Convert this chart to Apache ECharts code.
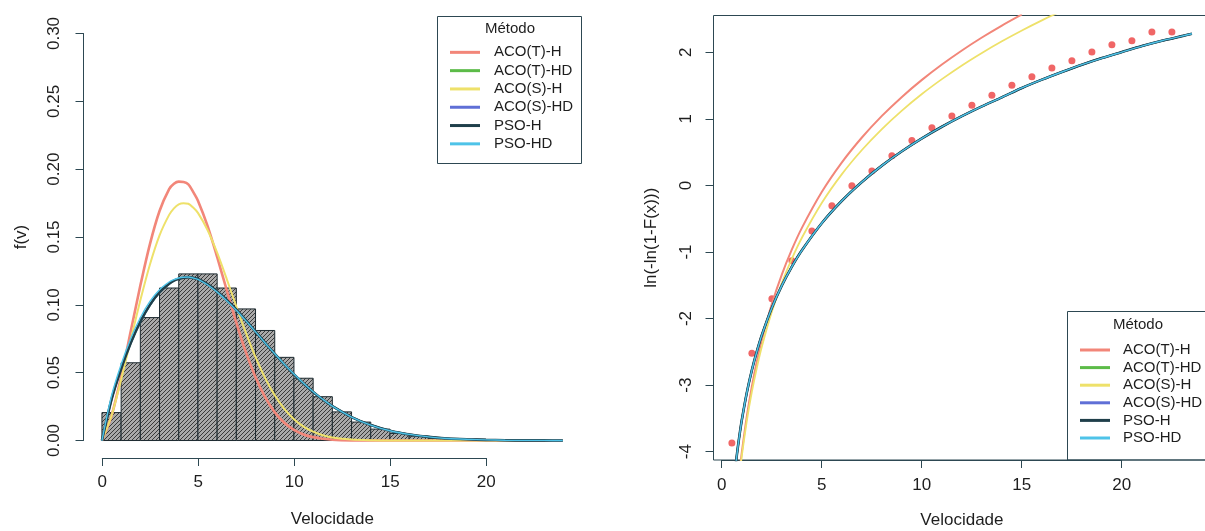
<!DOCTYPE html>
<html>
<head>
<meta charset="utf-8">
<script src="https://cdn.jsdelivr.net/npm/echarts@6/dist/echarts.min.js"></script>
<style>html,body{margin:0;padding:0;background:#fff}#c{width:1205px;height:531px}</style>
</head>
<body>
<div id="c"></div>
<script>
// ---------------- DATA ----------------
const methodNames = ['ACO(T)-H', 'ACO(T)-HD', 'ACO(S)-H', 'ACO(S)-HD', 'PSO-H', 'PSO-HD'];

// Left panel: histogram (density) of Velocidade
const histBreaks = [0,1,2,3,4,5,6,7,8,9,10,11,12,13,14,15,16,17,18];
const histDensity = [0.0206,0.0573,0.0906,0.1124,0.1228,0.1228,0.1124,0.0970,0.0811,0.0613,0.0459,0.0323,0.0211,0.0136,0.0084,0.0052,0.0032,0.0016];

// Left panel: fitted densities f(v)
const pdfX = [0,0.5,1,1.5,2,2.5,3,3.5,3.75,4,4.25,4.5,4.75,5,5.5,6,6.5,7,7.5,8,8.5,9,9.5,10,10.5,11,11.5,12,13,14,15,16,17,18,19,20,21,22,23,24];
const pdfAcoTH = [0,0.0182,0.0471,0.0805,0.1142,0.1448,0.1692,0.1853,0.1893,0.1908,0.1906,0.1888,0.1833,0.1768,0.1582,0.1353,0.1108,0.0868,0.0650,0.0467,0.0320,0.0209,0.0131,0.0079,0.0045,0.0025,0.0013,0.0006,0.0001,0,0,0,0,0,0,0,0,0,0,0];
const pdfAcoSH = [0,0.0183,0.0448,0.0742,0.1033,0.1297,0.1512,0.1663,0.1711,0.1740,0.1748,0.1745,0.1717,0.1678,0.1552,0.1384,0.1190,0.0988,0.0793,0.0614,0.0460,0.0333,0.0233,0.0157,0.0103,0.0065,0.0039,0.0023,0.0007,0.0002,0,0,0,0,0,0,0,0,0,0];
const pdfPsoH  = [0,0.0303,0.0529,0.0719,0.0876,0.1000,0.1093,0.1156,0.1178,0.1192,0.1200,0.1204,0.1199,0.1190,0.1152,0.1099,0.1036,0.0964,0.0885,0.0803,0.0720,0.0639,0.0561,0.0488,0.0420,0.0358,0.0302,0.0253,0.0173,0.0114,0.0072,0.0045,0.0027,0.0015,0.0009,0.0005,0.0002,0.0001,0.0001,0];
const pdfAcoTHD = pdfPsoH;   // overlaps PSO-H in the picture
const pdfAcoSHD = pdfPsoH;   // overlaps PSO-H in the picture
const pdfPsoHD = [0,0.0330,0.0560,0.0752,0.0905,0.1025,0.1112,0.1168,0.1186,0.1198,0.1203,0.1205,0.1198,0.1188,0.1148,0.1094,0.1031,0.0960,0.0882,0.0801,0.0719,0.0639,0.0562,0.0490,0.0422,0.0360,0.0304,0.0253,0.0173,0.0114,0.0072,0.0045,0.0027,0.0015,0.0009,0.0005,0.0002,0.0001,0.0001,0];

// Right panel: empirical ln(-ln(1-F(x))) points
const empX = [0.5,1.5,2.5,3.5,4.5,5.5,6.5,7.5,8.5,9.5,10.5,11.5,12.5,13.5,14.5,15.5,16.5,17.5,18.5,19.5,20.5,21.5,22.5];
const empY = [-3.87,-2.52,-1.70,-1.13,-0.68,-0.30,0.00,0.22,0.45,0.68,0.87,1.05,1.21,1.36,1.51,1.64,1.77,1.88,2.01,2.12,2.18,2.31,2.31];

// Right panel: fitted lines
const wblXPso = [0.6,0.7,0.8,0.9,1,1.25,1.5,1.75,2,2.5,3,3.5,4,5,6,7,8,9,10,11,12,13,14,15,16,17,18,19,20,21,22,23,23.5];
const wblPsoH = [-4.454,-4.171,-3.926,-3.710,-3.516,-3.106,-2.771,-2.489,-2.243,-1.834,-1.499,-1.216,-0.971,-0.561,-0.226,0.057,0.302,0.518,0.712,0.887,1.046,1.193,1.329,1.470,1.595,1.710,1.820,1.920,2.010,2.100,2.180,2.250,2.285];
const wblXAcoT = [0.9,1,1.25,1.5,1.75,2,2.5,3,3.5,4,5,6,7,8,9,10,11,12,13,14,15];
const wblAcoTH = [-4.256,-4.000,-3.458,-3.015,-2.641,-2.317,-1.775,-1.332,-0.958,-0.634,-0.092,0.351,0.725,1.050,1.336,1.592,1.823,2.034,2.229,2.409,2.576];
const wblXAcoS = [0.9,1,1.25,1.5,1.75,2,2.5,3,3.5,4,5,6,7,8,9,10,11,12,13,14,15,16,17];
const wblAcoSH = [-4.302,-4.053,-3.527,-3.097,-2.733,-2.418,-1.892,-1.462,-1.098,-0.783,-0.257,0.174,0.537,0.852,1.130,1.379,1.603,1.809,1.997,2.172,2.335,2.487,2.630];

// Axis tick ranges
const leftXTicks = {min: 0, max: 20, step: 5};
const leftYTicks = {min: 0, max: 0.30, step: 0.05};
const rightXTicks = {min: 0, max: 20, step: 5};
const rightYTicks = {min: -4, max: 2, step: 1};

// ---------------- STYLE ----------------
const FONT = 'Liberation Sans, Arial, Helvetica, sans-serif';
const INK = '#1e1e1e';
const AX = '#2d4852';
const methodColors = ['#f28679', '#5cbb48', '#eee16a', '#5f6fd6', '#1f3f4a', '#4ec3e8'];

const pair = (xs, ys) => xs.map((x, i) => [x, ys[i]]);
const leftPdfs = [pdfAcoTH, pdfAcoTHD, pdfAcoSH, pdfAcoSHD, pdfPsoH, pdfPsoHD];
const rightLines = [
  [wblXAcoT, wblAcoTH], [wblXPso, wblPsoH], [wblXAcoS, wblAcoSH],
  [wblXPso, wblPsoH], [wblXPso, wblPsoH], [wblXPso, wblPsoH]
];
const leftWidths = [2.6, 2, 2, 2, 2.6, 1.4];
const rightWidths = [2, 2, 1.8, 2, 2.6, 1.4];

// hatch pattern for histogram bars
const tile = document.createElement('canvas');
tile.width = 4; tile.height = 4;
(function () {
  const g = tile.getContext('2d');
  g.fillStyle = '#a9a9a9'; g.fillRect(0, 0, 4, 4);
  g.strokeStyle = '#3a3a3a'; g.lineWidth = 1;
  g.beginPath();
  g.moveTo(0, 4); g.lineTo(4, 0);
  g.moveTo(-1, 1); g.lineTo(1, -1);
  g.moveTo(3, 5); g.lineTo(5, 3);
  g.stroke();
})();
const hatch = {image: tile, repeat: 'repeat'};

function hiddenAxis(extra) {
  return Object.assign({
    type: 'value', axisLine: {show: false}, axisTick: {show: false},
    axisLabel: {show: false}, splitLine: {show: false}
  }, extra);
}
function visibleAxis(extra, labelExtra) {
  return Object.assign({
    type: 'value',
    axisLine: {show: true, lineStyle: {color: AX, width: 1}},
    axisTick: {show: true, length: 8, lineStyle: {color: AX, width: 1}},
    axisLabel: Object.assign({fontSize: 17, color: INK, fontFamily: FONT}, labelExtra),
    splitLine: {show: false}
  }, extra);
}
const nameStyle = {fontSize: 17, color: INK, fontFamily: FONT};

const series = [];
series.push({
  type: 'custom', name: 'hist', xAxisIndex: 0, yAxisIndex: 0, z: 1,
  data: histDensity.map((h, i) => [histBreaks[i], histBreaks[i + 1], h]),
  encode: {x: [0, 1], y: 2},
  renderItem: function (params, api) {
    const p0 = api.coord([api.value(0), 0]);
    const p1 = api.coord([api.value(1), api.value(2)]);
    return {
      type: 'rect',
      shape: {x: p0[0], y: p1[1], width: p1[0] - p0[0], height: p0[1] - p1[1]},
      style: {fill: hatch, stroke: '#1d2a30', lineWidth: 1}
    };
  }
});
methodNames.forEach((nm, i) => {
  series.push({
    type: 'line', name: nm, xAxisIndex: 0, yAxisIndex: 0, z: 3 + i,
    data: pair(pdfX, leftPdfs[i]), showSymbol: false, symbol: 'none', smooth: 0.25,
    itemStyle: {color: methodColors[i]},
    lineStyle: {color: methodColors[i], width: leftWidths[i]}
  });
});
series.push({
  type: 'scatter', name: 'empirico', xAxisIndex: 3, yAxisIndex: 3, z: 2,
  data: pair(empX, empY), symbol: 'circle', symbolSize: 7,
  itemStyle: {color: '#ec4040'}
});
methodNames.forEach((nm, i) => {
  series.push({
    type: 'line', name: nm, xAxisIndex: 3, yAxisIndex: 3, z: 3 + i,
    data: pair(rightLines[i][0], rightLines[i][1]), showSymbol: false, symbol: 'none', smooth: 0.25,
    itemStyle: {color: methodColors[i]},
    lineStyle: {color: methodColors[i], width: rightWidths[i]}
  });
});

const legendCommon = {
  orient: 'vertical', itemWidth: 30, itemHeight: 3, itemGap: 0, icon: 'rect',
  padding: 0, selectedMode: false, data: methodNames, z: 30
};

const option = {
  animation: false,
  backgroundColor: '#ffffff',
  textStyle: {fontFamily: FONT},
  grid: [
    {left: 83.5, top: 17.2, width: 497.7, height: 439.6, outerBoundsMode: 'none'},
    {left: 83.5, top: 33.5, width: 10, height: 407, outerBoundsMode: 'none'},
    {left: 102.3, top: 400, width: 384, height: 58, outerBoundsMode: 'none'},
    {left: 713.5, top: 15.5, width: 496.8, height: 444.5, outerBoundsMode: 'none',
     show: true, borderColor: AX, borderWidth: 1, backgroundColor: 'transparent'},
    {left: 713.5, top: 52.3, width: 10, height: 399.4, outerBoundsMode: 'none'},
    {left: 721.7, top: 400, width: 400, height: 60, outerBoundsMode: 'none'}
  ],
  xAxis: [
    hiddenAxis({gridIndex: 0, min: -0.96, max: 24.96, name: 'Velocidade', nameLocation: 'middle', nameGap: 54, nameTextStyle: nameStyle}),
    hiddenAxis({gridIndex: 1, min: 0, max: 1}),
    visibleAxis({gridIndex: 2, min: leftXTicks.min, max: leftXTicks.max, interval: leftXTicks.step}, {margin: 16}),
    hiddenAxis({gridIndex: 3, min: -0.42, max: 24.42, name: 'Velocidade', nameLocation: 'middle', nameGap: 52, nameTextStyle: nameStyle}),
    hiddenAxis({gridIndex: 4, min: 0, max: 1}),
    visibleAxis({gridIndex: 5, min: rightXTicks.min, max: rightXTicks.max, interval: rightXTicks.step}, {margin: 17})
  ],
  yAxis: [
    hiddenAxis({gridIndex: 0, min: -0.012, max: 0.312, name: 'f(v)', nameLocation: 'middle', nameRotate: 90, nameGap: 54, nameTextStyle: nameStyle}),
    visibleAxis({gridIndex: 1, min: leftYTicks.min, max: leftYTicks.max, interval: leftYTicks.step},
      {rotate: 90, margin: 21, formatter: v => v.toFixed(2)}),
    hiddenAxis({gridIndex: 2, min: 0, max: 1}),
    hiddenAxis({gridIndex: 3, min: -4.125, max: 2.56, name: 'ln(-ln(1-F(x)))', nameLocation: 'middle', nameRotate: 90, nameGap: 54, nameTextStyle: nameStyle}),
    visibleAxis({gridIndex: 4, min: rightYTicks.min, max: rightYTicks.max, interval: rightYTicks.step},
      {rotate: 90, margin: 19}),
    hiddenAxis({gridIndex: 5, min: 0, max: 1})
  ],
  legend: [
    Object.assign({}, legendCommon, {left: 450, top: 43.2,
      textStyle: {fontSize: 15, color: INK, fontFamily: FONT, lineHeight: 18.3, padding: [0, 0, 0, 9]}}),
    Object.assign({}, legendCommon, {left: 1080, top: 341.2, width: 200,
      textStyle: {fontSize: 15, color: INK, fontFamily: FONT, lineHeight: 17.6, padding: [0, 0, 0, 8]}})
  ],
  graphic: [
    {type: 'rect', shape: {x: 437.5, y: 16.5, width: 144, height: 147}, style: {fill: 'none', stroke: AX, lineWidth: 1}, z: 20},
    {type: 'text', x: 510, y: 29, style: {text: 'Método', fontSize: 15, fontFamily: FONT, fill: INK, align: 'center', verticalAlign: 'middle', textAlign: 'center', textVerticalAlign: 'middle'}, z: 20},
    {type: 'rect', shape: {x: 1067.5, y: 311.5, width: 200, height: 148.5}, style: {fill: 'none', stroke: AX, lineWidth: 1}, z: 20},
    {type: 'text', x: 1138, y: 325, style: {text: 'Método', fontSize: 15, fontFamily: FONT, fill: INK, align: 'center', verticalAlign: 'middle', textAlign: 'center', textVerticalAlign: 'middle'}, z: 20}
  ],
  series: series
};

const chart = echarts.init(document.getElementById('c'), null, {renderer: 'canvas'});
chart.setOption(option);
</script>
</body>
</html>
